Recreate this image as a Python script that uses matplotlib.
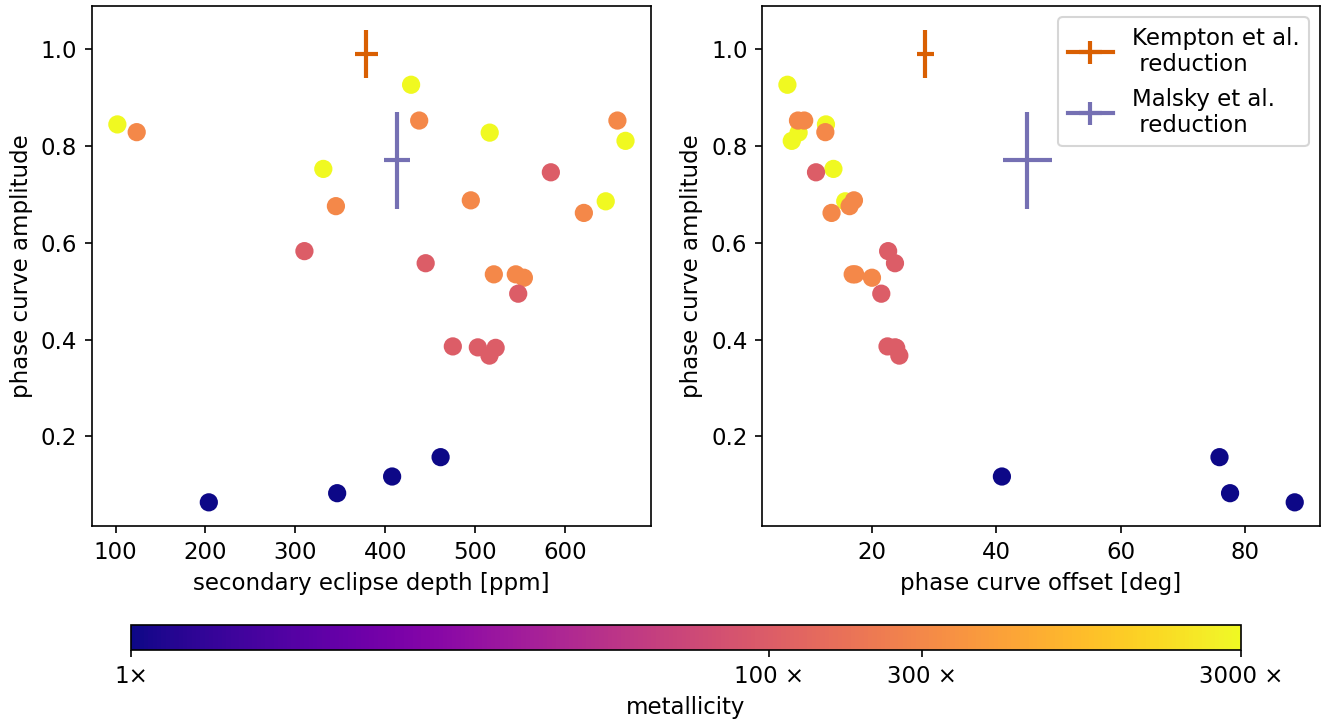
import numpy as np
import matplotlib
matplotlib.use("Agg")
import matplotlib.pyplot as plt
from matplotlib.colors import LogNorm
from matplotlib.cm import ScalarMappable

plt.rcParams["font.size"] = 11

# model grid: eclipse depth [ppm], phase offset [deg], amplitude, metallicity
depth = [102, 428.6, 516, 331, 667, 645,
         123.5, 437.6, 658, 345, 495, 620.7, 520.6, 545, 554,
         584, 310, 444.8, 547.7, 475, 502.8, 522.6, 515.7,
         203.7, 346.4, 407.5, 461.4]
offset = [12.6, 6.4, 8.2, 13.8, 7.1, 15.7,
          12.5, 8.1, 9.1, 16.4, 17.1, 13.5, 16.9, 17.3, 20.0,
          11.0, 22.6, 23.7, 21.5, 22.5, 23.7, 23.9, 24.4,
          88.0, 77.6, 40.9, 75.9]
amplitude = [0.845, 0.927, 0.828, 0.753, 0.811, 0.686,
             0.829, 0.853, 0.853, 0.676, 0.688, 0.662, 0.535, 0.535, 0.528,
             0.746, 0.583, 0.558, 0.495, 0.386, 0.384, 0.383, 0.367,
             0.0636, 0.0825, 0.117, 0.157]
metallicity = [3000] * 6 + [300] * 9 + [100] * 8 + [1] * 4

# observations
kempton = {"depth": 379, "depth_err": 12.6, "offset": 28.6, "offset_err": 1.3,
           "amp": 0.991, "amp_err": 0.05}
malsky = {"depth": 413, "depth_err": 14, "offset": 45.0, "offset_err": 4.0,
          "amp": 0.771, "amp_err": 0.1}

cbar_ticks = [1, 100, 300, 3000]
cbar_labels = ["1×", "100 ×", "300 ×", "3000 ×"]

norm = LogNorm(vmin=1, vmax=3000)
cmap = "plasma"

fig = plt.figure(figsize=(1323 / 150, 721 / 150), dpi=150)
ax1 = fig.add_axes([0.0695, 0.2705, 0.4225, 0.7212])
ax2 = fig.add_axes([0.576, 0.2705, 0.4218, 0.7212])
cax = fig.add_axes([0.099, 0.0985, 0.839, 0.0347])

ax1.scatter(depth, amplitude, c=metallicity, cmap=cmap, norm=norm, s=60)
ax1.errorbar(kempton["depth"], kempton["amp"], xerr=kempton["depth_err"],
             yerr=kempton["amp_err"], color="#d95f02", lw=2)
ax1.errorbar(malsky["depth"], malsky["amp"], xerr=malsky["depth_err"],
             yerr=malsky["amp_err"], color="#7570b3", lw=2)
ax1.set_xlabel("secondary eclipse depth [ppm]")
ax1.set_ylabel("phase curve amplitude")

ax2.scatter(offset, amplitude, c=metallicity, cmap=cmap, norm=norm, s=60)
ax2.errorbar(kempton["offset"], kempton["amp"], xerr=kempton["offset_err"],
             yerr=kempton["amp_err"], color="#d95f02", lw=2,
             label="Kempton et al.\n reduction")
ax2.errorbar(malsky["offset"], malsky["amp"], xerr=malsky["offset_err"],
             yerr=malsky["amp_err"], color="#7570b3", lw=2,
             label="Malsky et al.\n reduction")
ax2.set_xlabel("phase curve offset [deg]")
ax2.set_ylabel("phase curve amplitude")
ax2.legend(loc="upper right")

sm = ScalarMappable(norm=norm, cmap=cmap)
cb = fig.colorbar(sm, cax=cax, orientation="horizontal")
cb.minorticks_off()
cb.set_ticks(cbar_ticks)
cb.set_ticklabels(cbar_labels)
cb.set_label("metallicity")

fig.savefig("out.png", dpi=150)
